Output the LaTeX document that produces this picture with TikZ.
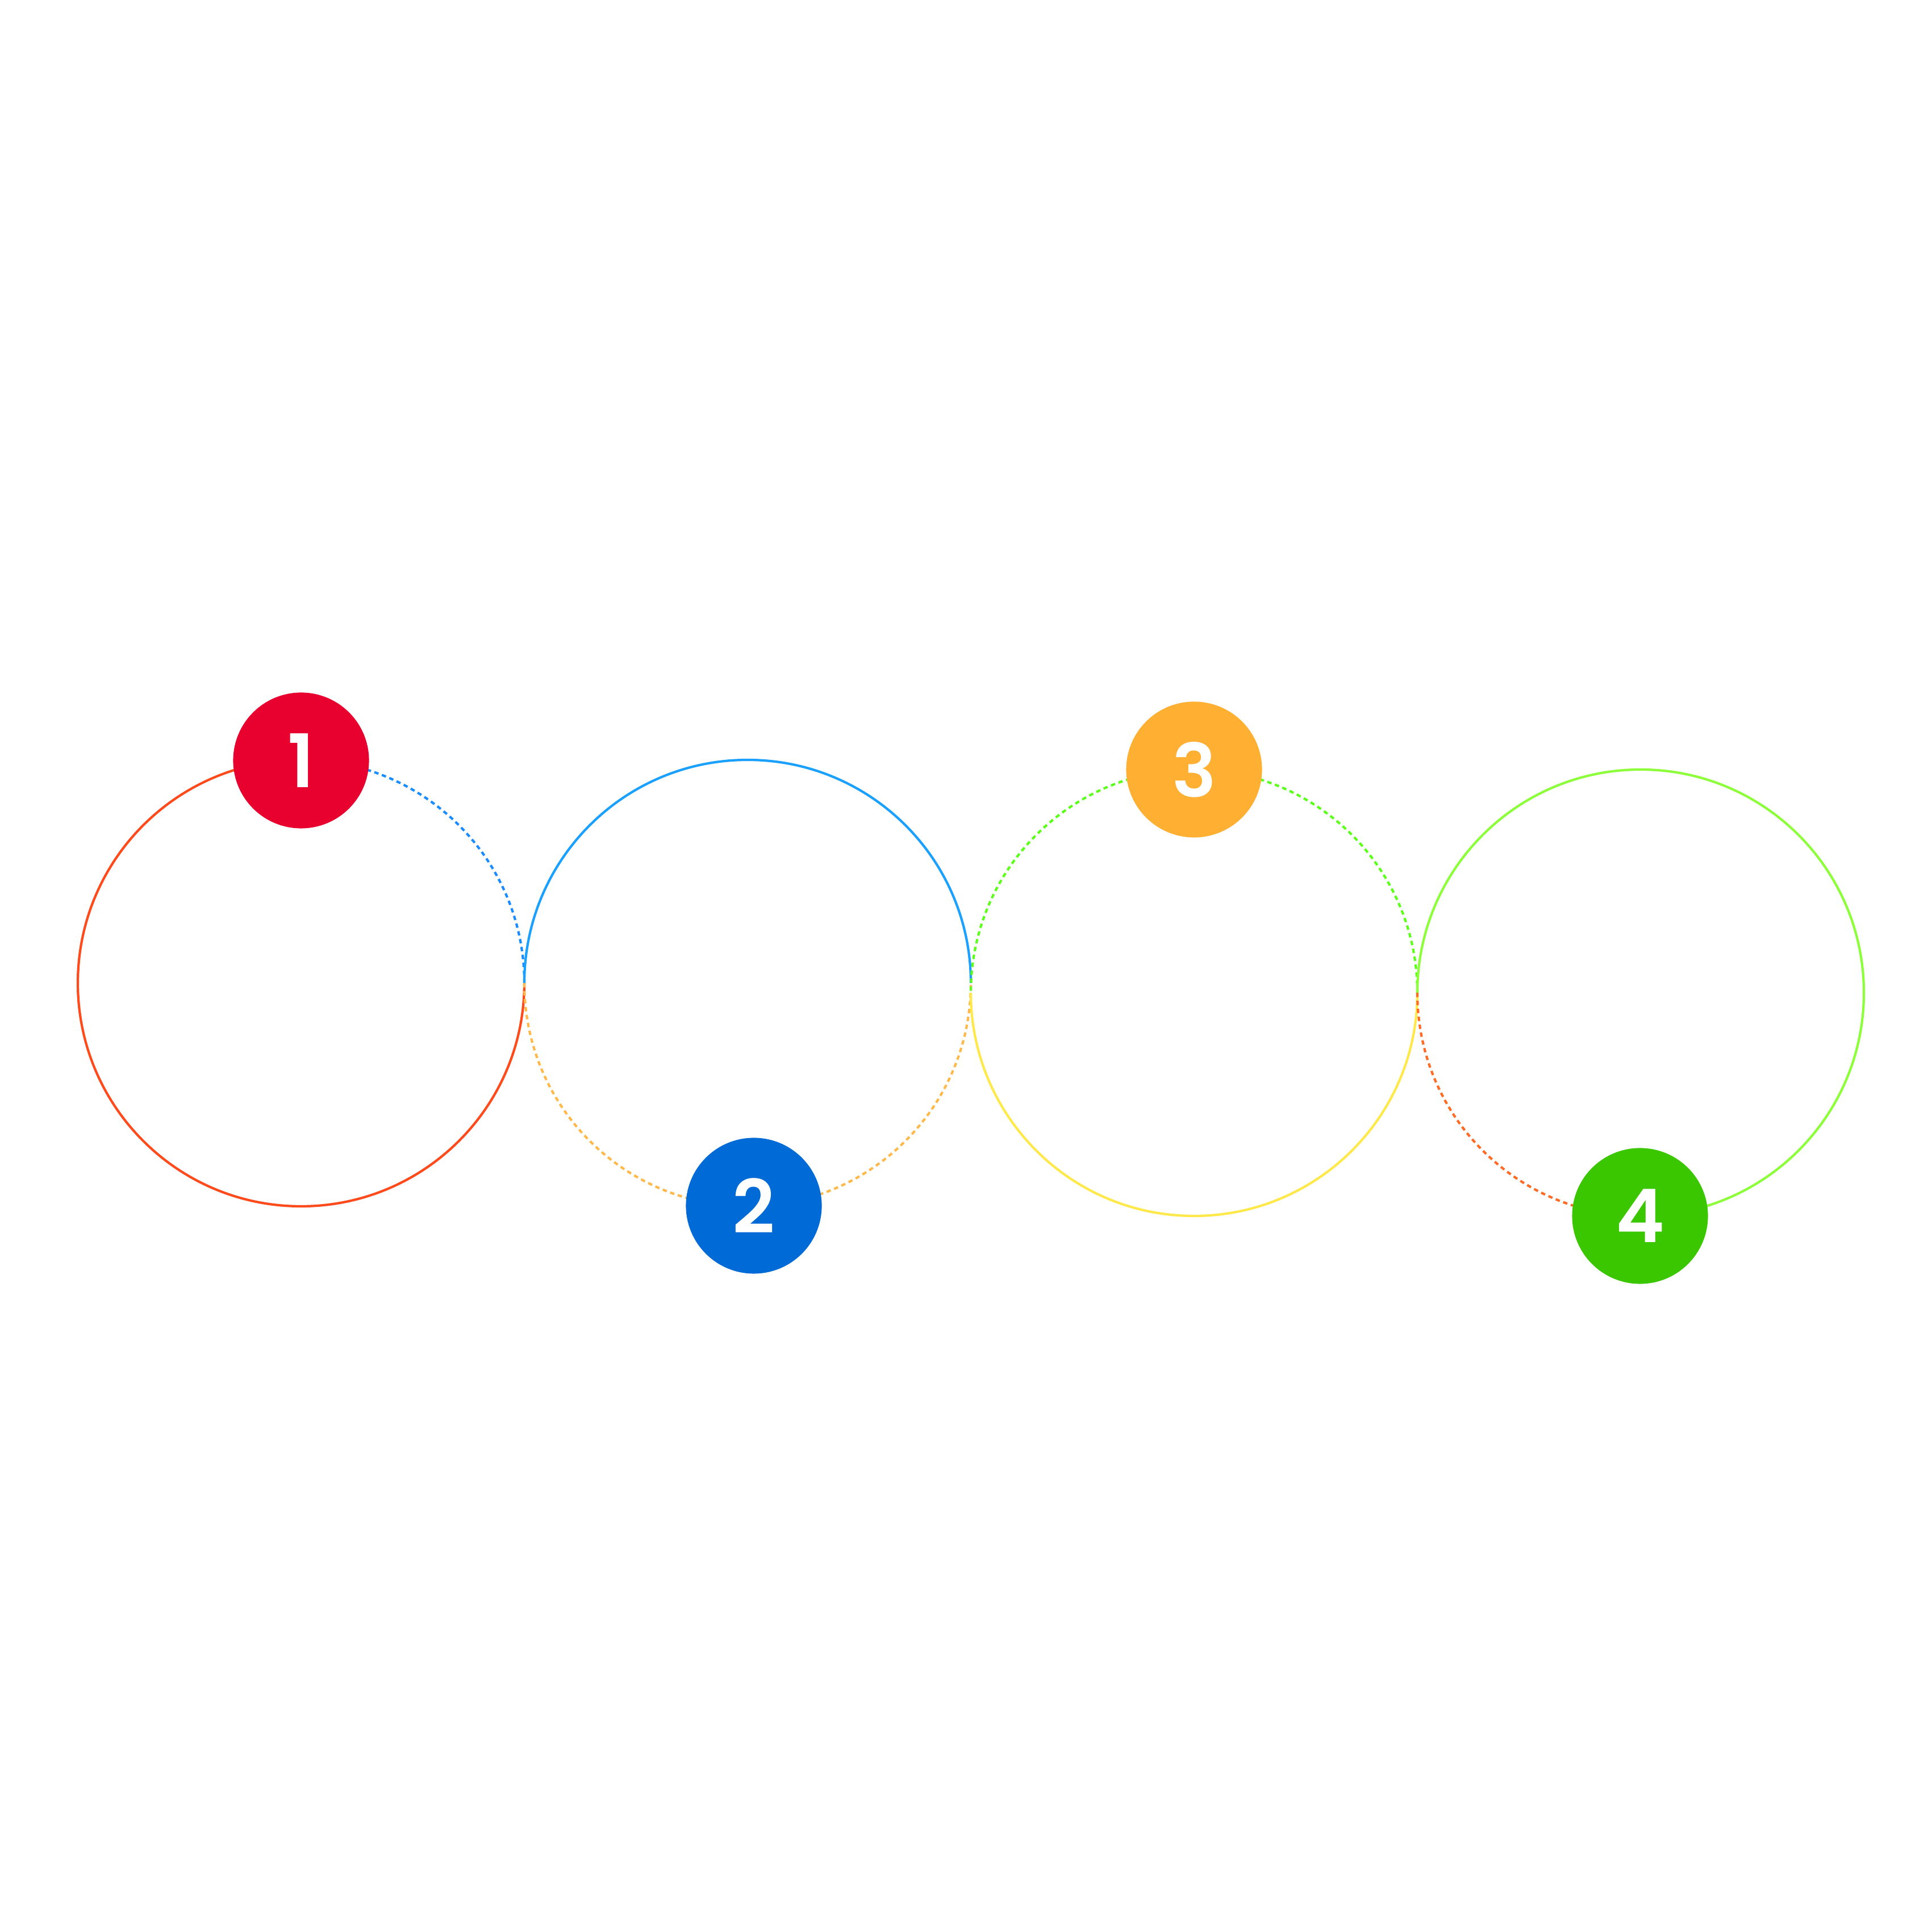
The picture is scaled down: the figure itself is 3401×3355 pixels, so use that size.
\documentclass[tikz,border=0pt]{standalone}
\usepackage{fontspec}
\newfontfamily\badgefont{Poppins}[UprightFont={* SemiBold}]
\definecolor{ringred}{HTML}{FF4A1C}
\definecolor{ringblue}{HTML}{1AA0FF}
\definecolor{ringyellow}{HTML}{FFE94A}
\definecolor{ringgreen}{HTML}{8CFF3A}
\definecolor{dotblue}{HTML}{1A8CFF}
\definecolor{dotorange}{HTML}{FFB84A}
\definecolor{dotgreen}{HTML}{5CFF1A}
\definecolor{dotred}{HTML}{FF6A24}
\definecolor{badgered}{HTML}{E8002F}
\definecolor{badgeblue}{HTML}{006BD6}
\definecolor{badgeorange}{HTML}{FFB033}
\definecolor{badgegreen}{HTML}{3AC700}
\begin{document}
\begin{tikzpicture}[x=0.01cm, y=0.01cm,
    ring/.style={line width=1.2pt},
    dots/.style={line width=1.2pt, dash pattern=on 2.2pt off 1.8pt},
    badge/.style={circle, minimum size=2.39cm, inner sep=0pt, text=white,
        font=\badgefont\fontsize{37}{37}\selectfont}]
    \useasboundingbox (0, 0) rectangle (3401, 3355);
    \def\r{393}

    % centres
    \coordinate (o1) at (530, 1624);
    \coordinate (o2) at (1316, 1624);
    \coordinate (o3) at (2102, 1607);
    \coordinate (o4) at (2888, 1607);

    % rings
    \draw[ring, ringred] (o1) ++(90:\r) arc[start angle=90, end angle=360, radius=\r];
    \draw[dots, dotblue] (o1) ++(0:\r) arc[start angle=0, end angle=90, radius=\r];

    \draw[ring, ringblue] (o2) ++(0:\r) arc[start angle=0, end angle=180, radius=\r];
    \draw[dots, dotorange] (o2) ++(180:\r) arc[start angle=180, end angle=360, radius=\r];

    \draw[ring, ringyellow] (o3) ++(180:\r) arc[start angle=180, end angle=360, radius=\r];
    \draw[dots, dotgreen] (o3) ++(0:\r) arc[start angle=0, end angle=180, radius=\r];

    \draw[ring, ringgreen] (o4) ++(-90:\r) arc[start angle=-90, end angle=180, radius=\r];
    \draw[dots, dotred] (o4) ++(180:\r) arc[start angle=180, end angle=270, radius=\r];

    % badges
    \node[badge, fill=badgered] (b1) at (530, 2016) {1};
    \node[badge, fill=badgeblue] (b2) at (1327, 1232) {2};
    \node[badge, fill=badgeorange] (b3) at (2102, 2000) {3};
    \node[badge, fill=badgegreen] (b4) at (2887, 1214) {4};

\end{tikzpicture}
\end{document}
